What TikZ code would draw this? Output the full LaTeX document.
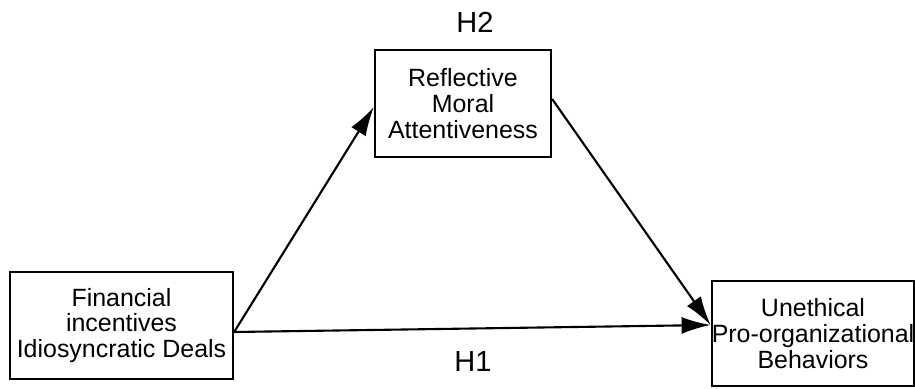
\documentclass[tikz,border=0pt]{standalone}
\usepackage{fontspec}
\setmainfont{Liberation Sans}
\usetikzlibrary{arrows.meta}
\tikzset{
    varbox/.style={rectangle, draw=black, line width=1.3pt, align=center, inner sep=0pt,
        minimum height=2.14cm, font=\fontsize{14.2pt}{14.6pt}\selectfont},
    hyp/.style={font=\fontsize{16.5pt}{18pt}\selectfont},
    pfeil/.style={-{Latex[length=0.58cm,width=0.34cm]}, line width=1.2pt}
}
\begin{document}
\begin{tikzpicture}
    \useasboundingbox (0,0) rectangle (18.3,7.76);
    % Variablen
    \node[varbox, minimum width=4.46cm] (fin) at (2.43,1.25) {Financial\\incentives\\Idiosyncratic Deals};
    \node[varbox, minimum width=3.52cm] (moral) at (9.26,5.69) {Reflective\\Moral\\Attentiveness};
    \node[varbox, minimum width=4.0cm, minimum height=2.1cm] (upb) at (16.26,1.09) {Unethical\\Pro-organizational\\Behaviors};
    
    % Pfade
    \draw[pfeil] ([yshift=-0.13cm]fin.east) -- ([yshift=-0.07cm]moral.west);
    \draw[pfeil] ([yshift=0.09cm]moral.east) -- ([yshift=0.17cm]upb.west);
    \draw[pfeil] ([yshift=-0.13cm]fin.east) -- ([yshift=0.17cm]upb.west);
    
    % Hypothesen
    \node[hyp] (h2) at (9.5,7.32) {H2};
    \node[hyp] (h1) at (9.46,0.52) {H1};
\end{tikzpicture}
\end{document}
